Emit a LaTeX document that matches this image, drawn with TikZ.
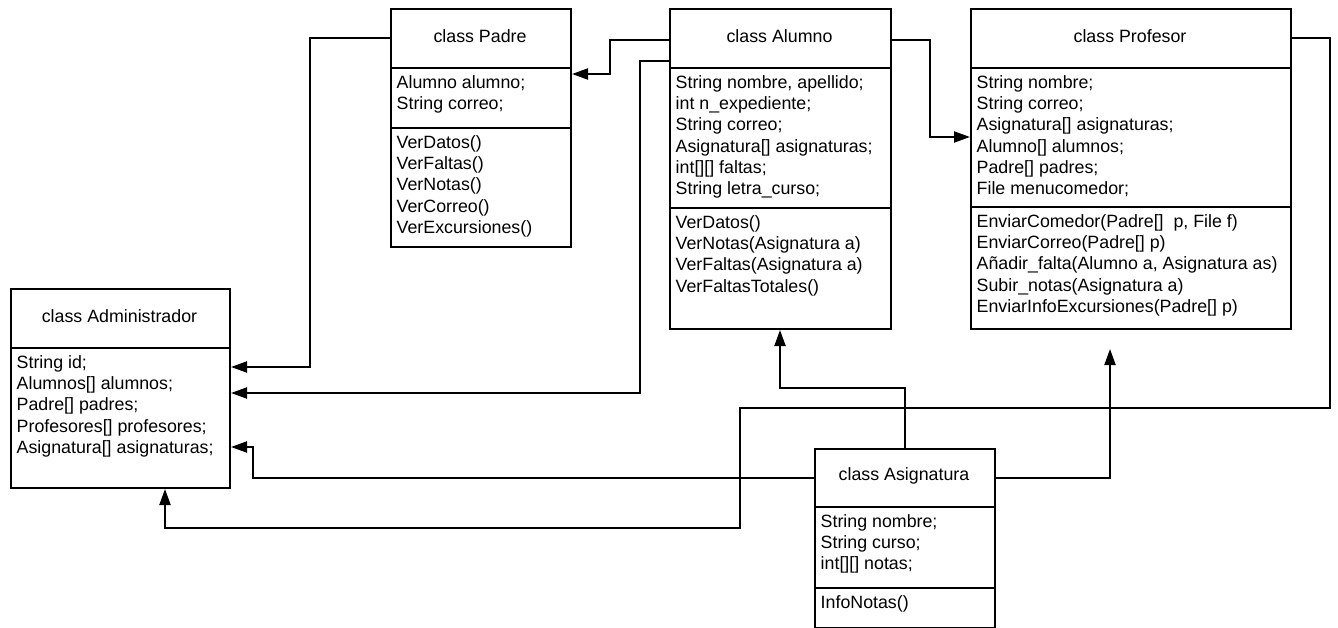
\documentclass[tikz,border=0pt]{standalone}
\usepackage{fontspec}
\setmainfont{Liberation Sans}
\usetikzlibrary{arrows.meta}
\newcommand\umlfont{\fontsize{17.8}{21.3}\selectfont}
\begin{document}
\begin{tikzpicture}[x=1pt,y=-1pt,
  cls/.style={draw, line width=2pt, inner sep=0pt, anchor=north west},
  ttl/.style={inner sep=0pt, font=\umlfont},
  txt/.style={anchor=north west, inner sep=0pt, align=left, font=\umlfont},
  plain/.style={line width=2pt},
  conn/.style={line width=2pt, -{Triangle[length=16pt,width=11pt]}}]
\fill[white] (0,0) rectangle (1338,628);
\useasboundingbox (0,0) rectangle (1338,628);

% ---- class Padre
\node[cls, minimum width=180pt, minimum height=238pt] (padre) at (390,8) {};
\draw[plain] (padre.west |- 0,68) -- (padre.east |- 0,68);
\draw[plain] (padre.west |- 0,128) -- (padre.east |- 0,128);
\node[ttl] (padreT) at (480,36) {class Padre};
\node[txt] (padreA) at (396.5,73.1) {\strut Alumno alumno;\\String correo;};
\node[txt] (padreM) at (396.5,133.1) {\strut VerDatos()\\VerFaltas()\\VerNotas()\\VerCorreo()\\VerExcursiones()};

% ---- class Alumno
\node[cls, minimum width=221pt, minimum height=320pt] (alumno) at (669,8) {};
\draw[plain] (alumno.west |- 0,68) -- (alumno.east |- 0,68);
\draw[plain] (alumno.west |- 0,208) -- (alumno.east |- 0,208);
\node[ttl] (alumnoT) at (779.5,36) {class Alumno};
\node[txt] (alumnoA) at (675.5,73.1) {\strut String nombre, apellido;\\int n\_expediente;\\String correo;\\Asignatura[] asignaturas;\\int[][] faltas;\\String letra\_curso;};
\node[txt] (alumnoM) at (675.5,213.1) {\strut VerDatos()\\VerNotas(Asignatura a)\\VerFaltas(Asignatura a)\\VerFaltasTotales()};

% ---- class Profesor
\node[cls, minimum width=320pt, minimum height=320pt] (profesor) at (970,8) {};
\draw[plain] (profesor.west |- 0,68) -- (profesor.east |- 0,68);
\draw[plain] (profesor.west |- 0,207) -- (profesor.east |- 0,207);
\node[ttl] (profesorT) at (1130,36) {class Profesor};
\node[txt] (profesorA) at (976.5,73.1) {\strut String nombre;\\String correo;\\Asignatura[] asignaturas;\\Alumno[] alumnos;\\Padre[] padres;\\File menucomedor;};
\node[txt] (profesorM) at (976.5,212.1) {\strut EnviarComedor(Padre[]\ \ p, File f)\\EnviarCorreo(Padre[] p)\\Añadir\_falta(Alumno a, Asignatura as)\\Subir\_notas(Asignatura a)\\EnviarInfoExcursiones(Padre[] p)};

% ---- class Administrador
\node[cls, minimum width=219pt, minimum height=199pt] (admin) at (10,288) {};
\draw[plain] (admin.west |- 0,348) -- (admin.east |- 0,348);
\node[ttl] (adminT) at (119.5,316) {class Administrador};
\node[txt] (adminA) at (16.5,353.1) {\strut String id;\\Alumnos[] alumnos;\\Padre[] padres;\\Profesores[] profesores;\\Asignatura[] asignaturas;};

% ---- class Asignatura
\node[cls, minimum width=180pt, minimum height=179pt] (asig) at (814,448) {};
\draw[plain] (asig.west |- 0,507) -- (asig.east |- 0,507);
\draw[plain] (asig.west |- 0,588) -- (asig.east |- 0,588);
\node[ttl] (asigT) at (904,475.5) {class Asignatura};
\node[txt] (asigA) at (820.5,512.1) {\strut String nombre;\\String curso;\\int[][] notas;};
\node[txt] (asigM) at (820.5,593.1) {\strut InfoNotas()};

% ---- connectors
\coordinate (tipProf) at (1110,349);
\draw[conn] (alumno.west |- 0,40) -| (610,74) -- (padre.east |- 0,74);
\draw[conn] (alumno.west |- 0,61) -| (640,393) -- (admin.east |- 0,393);
\draw[conn] (padre.west |- 0,38) -| (310,367) -- (admin.east |- 0,367);
\draw[conn] (alumno.east |- 0,40) -| (930,137) -- (profesor.west |- 0,137);
\draw[conn] (profesor.east |- 0,38) -| (1330,408) -| (740,528) -| (admin.south -| 165,0);
\draw[conn] (asig.west |- 0,478) -| (253,447) -- (admin.east |- 0,447);
\draw[conn] (asig.north) |- (780,388) -- (alumno.south -| 780,0);
\draw[conn] (asig.east |- 0,478) -| (tipProf);
\end{tikzpicture}
\end{document}
